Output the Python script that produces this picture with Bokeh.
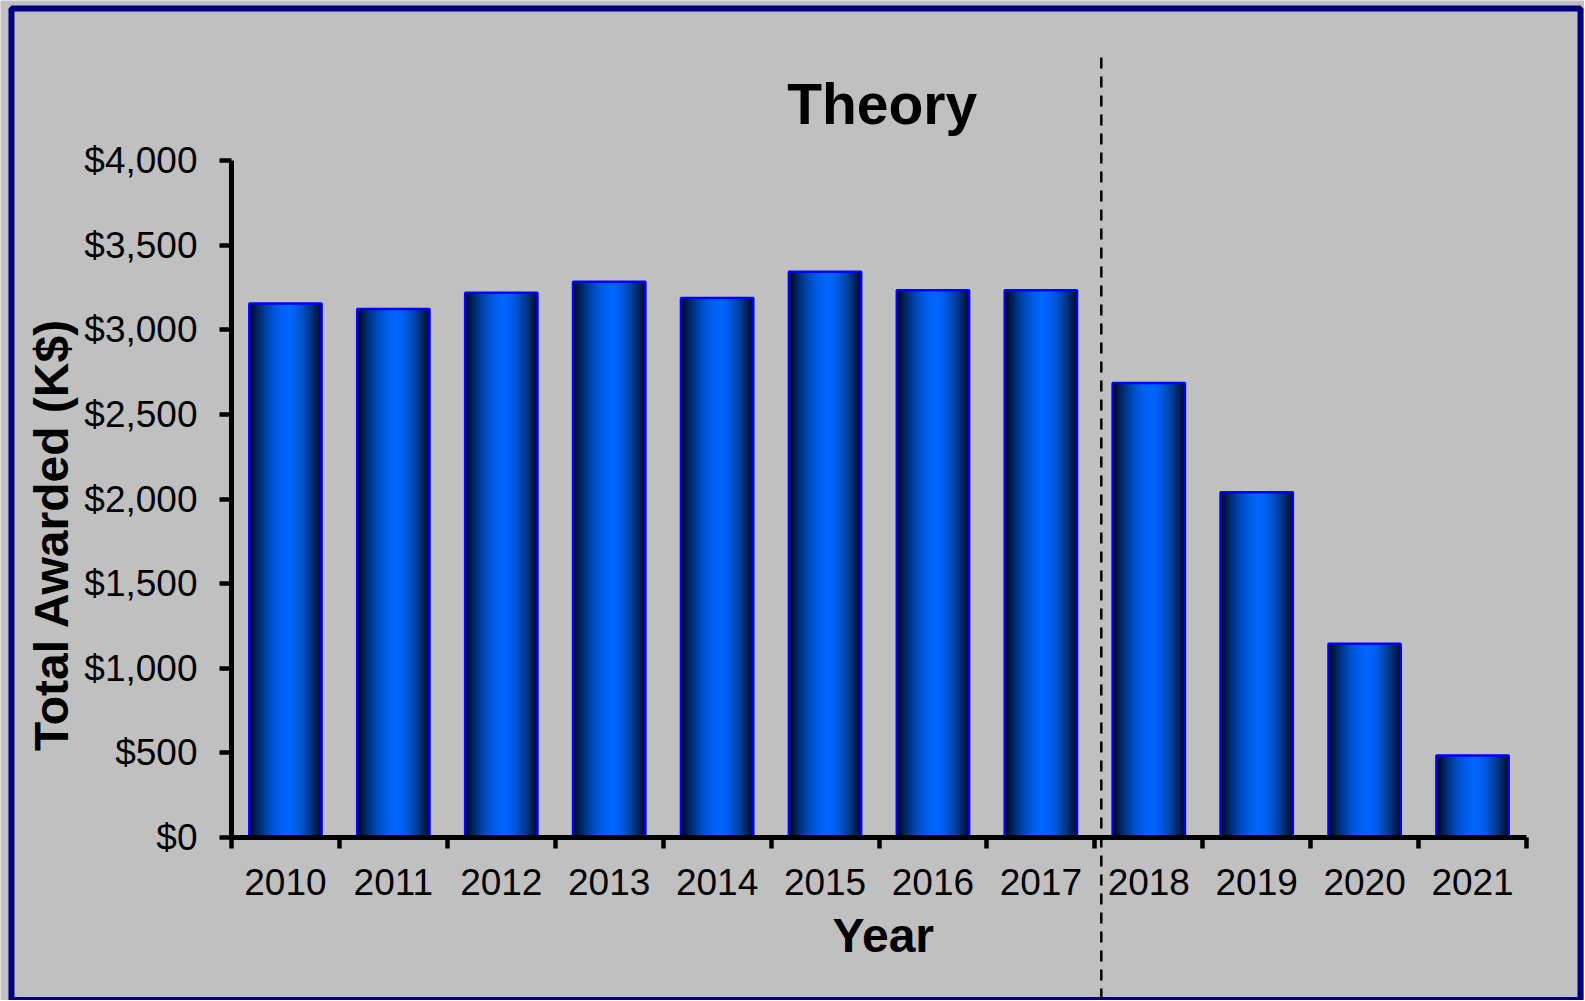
import numpy as np
from bokeh.plotting import figure
from bokeh.models import FixedTicker, NumeralTickFormatter, Label, Range1d
from bokeh.embed import file_html
from bokeh.resources import INLINE

# ---- data ----
years = ["2010", "2011", "2012", "2013", "2014", "2015", "2016", "2017", "2018", "2019", "2020", "2021"]
awarded = [3155, 3122, 3219, 3283, 3187, 3343, 3234, 3234, 2686, 2040, 1145, 485]
y_ticks = [0, 500, 1000, 1500, 2000, 2500, 3000, 3500, 4000]
y_max = 4000
title_text = "Theory"
x_label = "Year"
y_label = "Total Awarded (K$)"

FONT = "Liberation Sans"
BG = "#C0C0C0"

n = len(years)
centers = np.arange(n) + 0.5
bounds = np.arange(n + 1)

# ---- canvas / frame geometry (pixels inside the canvas) ----
W, H = 1584, 1000
ax_left_px, ax_right_px = 231.0, 1526.0    # x data 0 .. n
ax_bottom_px, ax_top_px = 837.0, 160.0     # y data 0 .. y_max
ux = (ax_right_px - ax_left_px) / n
uy = (ax_bottom_px - ax_top_px) / y_max


def px2x(px):
    return (px - ax_left_px) / ux


def px2y(py):
    return (ax_bottom_px - py) / uy


p = figure(width=W, height=H, output_backend="svg", toolbar_location=None,
           x_range=Range1d(px2x(0), px2x(W)), y_range=Range1d(px2y(H), px2y(0)),
           min_border_left=0, min_border_right=0, min_border_top=0, min_border_bottom=0)
p.background_fill_color = BG
p.border_fill_color = BG
p.outline_line_color = None
p.xgrid.visible = False
p.ygrid.visible = False

# ---- outer navy border ----
p.quad(left=[px2x(11)], right=[px2x(1580)], top=[px2y(8)], bottom=[px2y(999.5)],
       fill_color=None, line_color="#000080", line_width=6)

# ---- gradient bars (image stretched over each bar) ----
bar_w = 0.67
K = 96
grad = np.zeros((1, K), dtype=np.uint32)
gv = grad.view(dtype=np.uint8).reshape((1, K, 4))
peak = 0.53
for k in range(K):
    t = (k + 0.5) / K
    d = (t - peak) / peak if t < peak else (t - peak) / (1 - peak)
    f = max(0.0, 1 - abs(d) ** 1.7)
    gv[0, k, 0] = 0
    gv[0, k, 1] = int(6 + (102 - 6) * f)
    gv[0, k, 2] = int(20 + (255 - 20) * f)
    gv[0, k, 3] = 255
p.image_rgba(image=[grad] * n, x=list(centers - bar_w / 2), y=[0] * n,
             dw=[bar_w] * n, dh=awarded)
p.vbar(x=centers, top=awarded, bottom=0, width=bar_w, fill_color=None,
       line_color="#0000FF", line_width=2.5)

# ---- divider (dashed) ----
div_x = 8.06
p.segment(x0=[div_x], y0=[px2y(57)], x1=[div_x], y1=[px2y(H + 20)],
          line_color="black", line_width=2.5, line_dash="11 8")

# ---- axes ----
xa = p.xaxis[0]
xa.fixed_location = 0
xa.bounds = (0, n)
xa.ticker = FixedTicker(ticks=list(centers), minor_ticks=list(bounds))
xa.major_label_overrides = {float(c): y for c, y in zip(centers, years)}
xa.major_tick_out = 0
xa.major_tick_in = 0
xa.minor_tick_out = 11
xa.minor_tick_in = 0
xa.minor_tick_line_width = 4.5
xa.minor_tick_line_color = "black"
xa.axis_line_width = 5
xa.axis_line_color = "black"
xa.major_label_text_font = FONT
xa.major_label_text_font_size = "37px"
xa.major_label_text_color = "black"
xa.major_label_standoff = 20

ya = p.yaxis[0]
ya.fixed_location = 0
ya.bounds = (0, y_max)
ya.ticker = FixedTicker(ticks=y_ticks, minor_ticks=[])
ya.formatter = NumeralTickFormatter(format="$0,0")
ya.major_tick_out = 12
ya.major_tick_in = 0
ya.major_tick_line_width = 4.5
ya.major_tick_line_color = "black"
ya.minor_tick_out = 0
ya.minor_tick_in = 0
ya.axis_line_width = 5
ya.axis_line_color = "black"
ya.major_label_text_font = FONT
ya.major_label_text_font_size = "37px"
ya.major_label_text_color = "black"
ya.major_label_standoff = 22

# ---- texts ----
p.add_layout(Label(x=6.03, y=4331, text=title_text, text_font=FONT, text_font_size="57px",
                   text_font_style="bold", text_color="black", text_align="center",
                   text_baseline="alphabetic"))
p.add_layout(Label(x=6.04, y=-580, text=x_label, text_font=FONT, text_font_size="48px",
                   text_font_style="bold", text_color="black", text_align="center",
                   text_baseline="alphabetic"))
p.add_layout(Label(x=-1.668, y=1790, text=y_label, text_font=FONT, text_font_size="48px",
                   text_font_style="bold", text_color="black", text_align="center",
                   text_baseline="alphabetic", angle=np.pi / 2))

open("out.html", "w").write(file_html(p, INLINE))
